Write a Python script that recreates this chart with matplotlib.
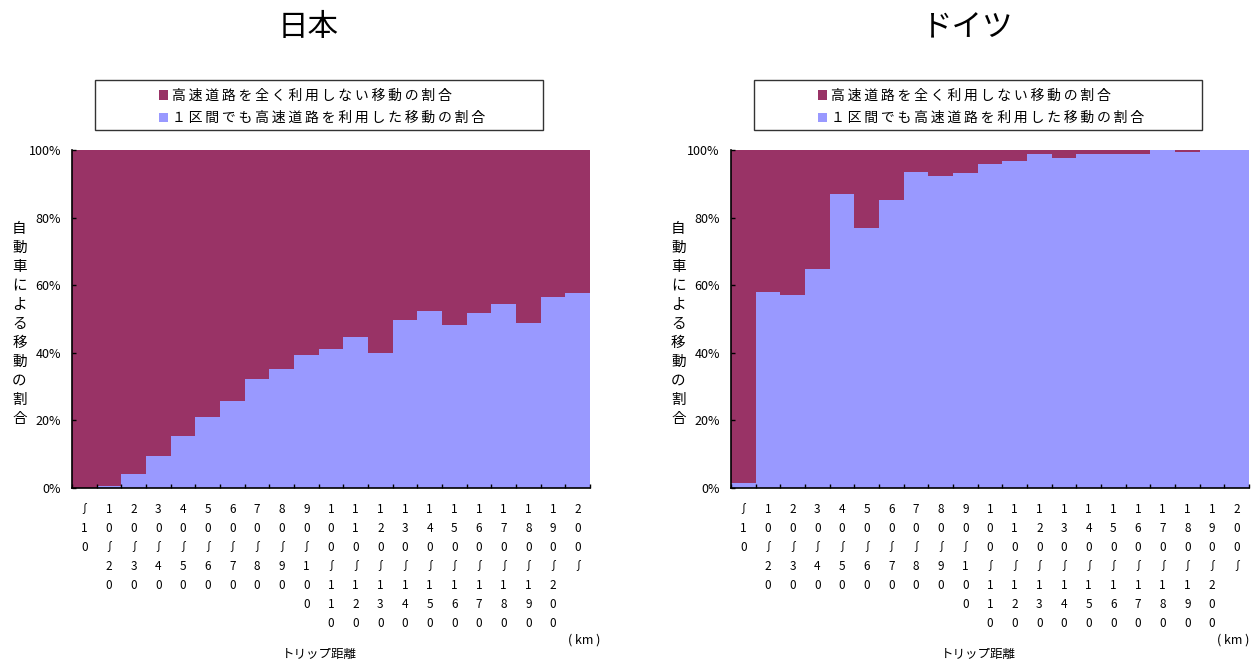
import matplotlib.pyplot as plt
from matplotlib.patches import Rectangle
import numpy as np

plt.rcParams['font.family'] = ['Noto Sans CJK JP', 'DejaVu Sans']

# トリップ距離区分 (km)
categories = ['～10', '10～20', '20～30', '30～40', '40～50', '50～60', '60～70',
              '70～80', '80～90', '90～100', '100～110', '110～120', '120～130',
              '130～140', '140～150', '150～160', '160～170', '170～180',
              '180～190', '190～200', '200～']

# 1区間でも高速道路を利用した移動の割合 (%)
japan_use = [0.0, 0.7, 4.1, 9.4, 15.3, 21.0, 25.7, 32.2, 35.1, 39.3, 41.1,
             44.7, 40.0, 49.7, 52.4, 48.2, 51.8, 54.5, 48.8, 56.5, 57.7]
germany_use = [1.4, 57.9, 57.0, 64.8, 87.0, 76.9, 85.2, 93.6, 92.4, 93.3, 95.9,
               96.8, 98.9, 97.7, 98.9, 98.9, 98.9, 100.0, 99.5, 100.0, 100.0]

# 高速道路を全く利用しない移動の割合 = 残り
japan_none = [100 - v for v in japan_use]
germany_none = [100 - v for v in germany_use]

titles = ['日本', 'ドイツ']
legend_labels = ['高速道路を全く利用しない移動の割合', '１区間でも高速道路を利用した移動の割合']
ylabel = '自動車による移動の割合'
xlabel = 'トリップ距離'

red = '#993366'
blue = '#9999ff'


def vertical(s):
    # 縦書き用に1文字ずつ改行、「～」は縦向きの波線に置き換え
    return '\n'.join('∫' if c == '～' else c for c in s)


def spaced(s):
    return '\u2009'.join(s)


fig = plt.figure(figsize=(12.53, 6.61), dpi=100)

panels = [
    (0.0575, titles[0], japan_use, japan_none, 0.479),
    (0.5834, titles[1], germany_use, germany_none, 0.997),
]

x = np.arange(len(categories))
w = 0.4134

for left, title, use, none, km_x in panels:
    ax = fig.add_axes([left, 0.2617, w, 0.5114])
    b1 = ax.bar(x, use, width=1.0, color=blue, label=legend_labels[1])
    b2 = ax.bar(x, none, width=1.0, bottom=use, color=red, label=legend_labels[0])

    ax.set_xlim(-0.5, len(categories) - 0.5)
    ax.set_ylim(0, 100)
    ax.set_yticks([0, 20, 40, 60, 80, 100])
    ax.set_yticklabels(['0%', '20%', '40%', '60%', '80%', '100%'], fontsize=9)
    ax.tick_params(axis='y', direction='in', length=3, width=1, pad=8)

    # 目盛線は区分の境界、ラベルは区分の中央
    ax.set_xticks(np.arange(len(categories) + 1) - 0.5)
    ax.set_xticklabels([])
    ax.tick_params(axis='x', which='major', direction='in', length=3, width=1)
    ax.set_xticks(x, [vertical(c) for c in categories], minor=True)
    ax.tick_params(axis='x', which='minor', length=0, pad=11, labelsize=8.5)
    for lbl in ax.get_xticklabels(minor=True):
        lbl.set_linespacing(1.6)
        lbl.set_verticalalignment('top')

    for side in ['top', 'right']:
        ax.spines[side].set_visible(False)
    ax.spines['left'].set_linewidth(1.2)
    ax.spines['bottom'].set_linewidth(1.2)

    # タイトル
    cx = left + w / 2
    fig.text(cx - 0.018, 0.958, title, ha='center', va='center', fontsize=22)

    # 縦書きの軸ラベル
    fig.text(left - 0.042, 0.51, vertical(ylabel), ha='center', va='center',
             fontsize=10.5, linespacing=1.45)
    fig.text(cx - 0.009, 0.0, xlabel, ha='center', va='bottom', fontsize=9)
    fig.text(km_x, 0.032, '( km )', ha='right', va='center', fontsize=9)

    # 凡例枠
    bx0 = left + 0.0185
    fig.patches.append(Rectangle((bx0, 0.803), 0.3575, 0.076,
                                 transform=fig.transFigure, fill=False,
                                 edgecolor='#333333', linewidth=1.0))
    leg = ax.legend([b2, b1], [spaced(legend_labels[0]), spaced(legend_labels[1])],
                    loc='center left', bbox_to_anchor=(bx0 + 0.045, 0.838),
                    bbox_transform=fig.transFigure, frameon=False, fontsize=10,
                    handlelength=0.7, handleheight=0.7, handletextpad=0.3,
                    labelspacing=0.6, borderpad=0)

fig.savefig('out.png', dpi=100)
